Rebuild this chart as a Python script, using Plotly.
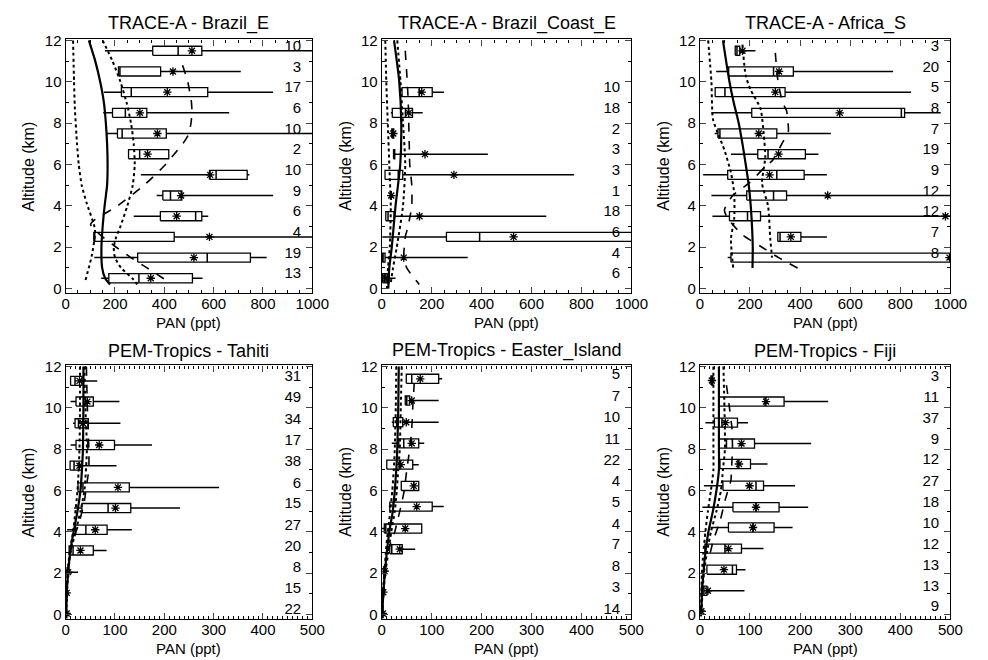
import plotly.graph_objects as go

W, H = 988, 660

# ---------------- DATA ----------------
TITLES = ["TRACE-A - Brazil_E", "TRACE-A - Brazil_Coast_E", "TRACE-A - Africa_S",
          "PEM-Tropics - Tahiti", "PEM-Tropics - Easter_Island", "PEM-Tropics - Fiji"]
X_MAX = [1000, 1000, 1000, 500, 500, 500]

# Panel 1: Brazil_E
BE_ALT = [11.5, 10.5, 9.5, 8.5, 7.5, 6.5, 5.5, 4.5, 3.5, 2.5, 1.5, 0.5]
BE_N = [10, 3, 17, 6, 10, 2, 10, 9, 6, 4, 19, 13]
BE_MIN = [159, 212, 155, 152, 167, 255, 305, 369, 276, 114, 116, 144]
BE_Q1 = [353, 214, 226, 190, 210, 255, 583, 394, 384, 114, 292, 175]
BE_MED = [456, 220, 266, 242, 229, 300, 610, 425, 527, 118, 574, 297]
BE_Q3 = [552, 385, 576, 329, 408, 418, 736, 471, 552, 440, 749, 514]
BE_MAX = [1100, 710, 841, 663, 1100, 418, 745, 841, 578, 1100, 815, 555]
BE_MEAN = [512, 435, 412, 301, 372, 332, 586, 468, 450, 583, 520, 345]
BE_SOLID_ALT = [12, 11, 10, 9, 8, 7, 6, 5, 4, 3, 2, 1, 0.5, 0.2]
BE_SOLID = [94, 120, 140, 155, 163, 168, 170, 168, 158, 150, 145, 148, 160, 180]
BE_DOT1_ALT = [12, 10, 8.8, 7, 6, 5, 4.1, 2.85, 1.6, 0.35]
BE_DOT1 = [30, 34, 37, 46, 53, 65, 86, 119, 106, 79]
BE_DOT2_ALT = [12, 11, 10, 9, 8, 7, 6, 5, 4, 3, 2.5, 2, 1.5, 1, 0.5, 0.2]
BE_DOT2 = [150, 190, 222, 247, 265, 276, 280, 272, 250, 222, 205, 195, 200, 225, 270, 290]
BE_DASH_ALT = [10.8, 10, 9, 8.5, 8, 7.5, 7, 6.5, 6, 5, 4, 3.3, 3.1, 2.5, 2, 1.5, 1, 0.5, 0.3]
BE_DASH = [474, 495, 510, 512, 508, 500, 475, 440, 405, 318, 210, 115, 101, 150, 205, 265, 330, 395, 420]

# Panel 2: Brazil_Coast_E
BC_ALT = [9.5, 8.5, 7.5, 6.5, 5.5, 4.5, 3.5, 2.5, 1.5, 0.5]
BC_N = [10, 18, 2, 3, 3, 1, 18, 6, 4, 6]
BC_MIN = [81, 36, 40, 47, 13, 38, 16, 2, 3, 3]
BC_Q1 = [81, 42, 40, 47, 13, 38, 16, 259, 3, 3]
BC_MED = [150, 95, 44, 50, 66, 38, 25, 392, 5, 10]
BC_Q3 = [202, 123, 48, 52, 84, 38, 49, 1200, 13, 29]
BC_MAX = [249, 164, 48, 425, 770, 38, 659, 1200, 344, 55]
BC_MEAN = [160, 108, 46, 173, 289, 38, 151, 528, 88, 16]
BC_SOLID_ALT = [12, 10, 8, 6, 4, 2, 1, 0]
BC_SOLID = [49, 70, 78, 74, 55, 40, 30, 26]
BC_DOT1_ALT = [12, 10, 8, 6, 4, 2, 1, 0]
BC_DOT1 = [14, 18, 24, 30, 36, 32, 25, 20]
BC_DOT2_ALT = [12, 10, 8, 6, 4, 2, 1, 0.2]
BC_DOT2 = [62, 75, 85, 94, 85, 60, 45, 35]
BC_DASH_ALT = [11.5, 10, 9, 8, 7, 6, 5, 4, 3, 2.5, 2, 1.5, 1, 0.5, 0.2]
BC_DASH = [94, 102, 106, 108, 110, 112, 120, 120, 105, 94, 90, 88, 100, 130, 150]

# Panel 3: Africa_S
AS_ALT = [11.5, 10.5, 9.5, 8.5, 7.5, 6.5, 5.5, 4.5, 3.5, 2.5, 1.5]
AS_N = [3, 20, 5, 8, 7, 19, 9, 12, 12, 7, 8]
AS_MIN = [141, 65, 61, 46, 59, 124, 13, 46, 50, 311, 111]
AS_Q1 = [141, 115, 61, 207, 72, 231, 111, 187, 118, 311, 124]
AS_MED = [148, 294, 100, 804, 80, 272, 307, 294, 190, 320, 1150]
AS_Q3 = [159, 373, 340, 817, 307, 421, 416, 346, 242, 403, 1200]
AS_MAX = [222, 771, 843, 961, 523, 473, 507, 1100, 1100, 507, 1200]
AS_MEAN = [170, 316, 301, 558, 235, 314, 278, 510, 980, 363, 996]
AS_SOLID_ALT = [12, 10, 9, 8, 7, 6, 5, 4, 3, 2, 1]
AS_SOLID = [92, 118, 135, 155, 170, 183, 195, 203, 208, 211, 210]
AS_DOT1_ALT = [12, 10, 8.2, 7.5, 6.7, 5.6, 4.6, 3.4, 2.4, 1.0]
AS_DOT1 = [33, 46, 52, 72, 98, 124, 137, 137, 124, 133]
AS_DOT2_ALT = [11.8, 10.3, 9.6, 8.7, 7.45, 6.35, 5.1, 4, 2.4, 1.5]
AS_DOT2 = [170, 183, 203, 242, 255, 261, 248, 272, 281, 288]
AS_DASH_ALT = [11.4, 10, 9, 8.6, 8, 7.6, 7, 6.7, 6.2, 5.9, 5.1, 4.5, 3.8, 3.4, 2.6, 2, 1.5, 0.9]
AS_DASH = [301, 312, 330, 346, 352, 353, 327, 314, 290, 261, 196, 131, 98, 111, 170, 248, 314, 405]

# Panel 4: Tahiti
TA_ALT = [11.3, 10.3, 9.25, 8.2, 7.2, 6.15, 5.15, 4.1, 3.1, 2.05, 1.05, 0.05]
TA_N = [31, 49, 34, 17, 38, 6, 15, 27, 20, 8, 15, 22]
TA_MIN = [10, 10, 15, 10, 9, 25, 17, 3, 7, 2, 1, 1]
TA_Q1 = [10, 21, 19, 21, 9, 25, 33, 20, 7, 3, 1, 1]
TA_MED = [19, 40, 26, 45, 17, 35, 86, 41, 15, 4, 2, 1.5]
TA_Q3 = [33, 56, 46, 99, 33, 129, 132, 84, 56, 6, 3, 2]
TA_MAX = [64, 109, 111, 175, 103, 311, 232, 134, 83, 25, 4, 3]
TA_MEAN = [28, 44, 35, 68, 28, 106, 101, 60, 30, 5, 2, 2]
TA_SOLID_ALT = [12, 10, 8, 7, 6, 5, 4, 3, 2, 1, 0]
TA_SOLID = [36, 36, 35, 33, 30, 24, 16, 9, 5, 2, 1]
TA_DOT1_ALT = [12, 10, 8, 6, 4, 3, 2, 1, 0]
TA_DOT1 = [29, 29, 28, 24, 15, 8, 4, 2, 1]
TA_DOT2_ALT = [12, 10, 8, 6, 5, 4, 3, 2, 0]
TA_DOT2 = [38, 40, 43, 38, 30, 20, 10, 5, 1]
TA_DASH_ALT = [12, 10, 8, 7, 6.5, 5.5, 4.5, 3.5, 2.5, 1, 0]
TA_DASH = [42, 44, 47, 47, 44, 38, 28, 14, 6, 2, 1]

# Panel 5: Easter_Island
EI_ALT = [11.4, 10.35, 9.3, 8.28, 7.25, 6.22, 5.22, 4.16, 3.16, 2.1, 1.08, 0.05]
EI_N = [5, 7, 10, 11, 22, 4, 5, 4, 7, 8, 3, 14]
EI_MIN = [49, 47, 20, 20, 10, 39, 14, 0, 16, 4, 2, 1]
EI_Q1 = [49, 47, 23, 34, 10, 39, 16, 5, 16, 4, 2, 1]
EI_MED = [60, 50, 30, 44, 36, 64, 23, 8, 20, 5, 3, 2]
EI_Q3 = [114, 56, 42, 74, 62, 74, 101, 80, 41, 8, 4, 2]
EI_MAX = [121, 114, 114, 85, 74, 74, 124, 80, 67, 12, 6, 3]
EI_MEAN = [77, 60, 49, 60, 38, 64, 70, 47, 36, 6, 3, 2]
EI_SOLID_ALT = [12, 10, 8, 7, 6, 5, 4, 3, 2, 1, 0]
EI_SOLID = [34, 33, 31, 29, 26, 22, 15, 10, 6, 3, 1]
EI_DOT1_ALT = [12, 10, 8, 7, 6, 5, 4, 3, 2, 1, 0]
EI_DOT1 = [29, 28, 26, 24, 21, 17, 12, 8, 5, 2, 1]
EI_DOT2_ALT = [12, 10, 8, 7, 6, 5, 4, 3, 2, 1, 0]
EI_DOT2 = [40, 38, 36, 33, 30, 26, 19, 13, 7, 3, 1]
EI_DASH_ALT = [11.2, 10, 9, 8, 7, 6, 5.3, 4.5, 4, 3.5, 3]
EI_DASH = [65, 62, 60, 56, 50, 45, 39, 31, 26, 18, 12]

# Panel 6: Fiji
FJ_ALT = [11.32, 10.3, 9.28, 8.27, 7.28, 6.23, 5.19, 4.21, 3.19, 2.17, 1.15, 0.16]
FJ_N = [3, 11, 37, 9, 12, 27, 18, 10, 12, 13, 13, 9]
FJ_MIN = [22, 38, 11, 38, 40, 8, 5, 21, 10, 14, 3, 1]
FJ_Q1 = [22, 38, 29, 38, 40, 46, 66, 57, 10, 14, 3, 1]
FJ_MED = [24, 130, 44, 53, 76, 112, 112, 106, 50, 65, 8, 2]
FJ_Q3 = [26, 168, 75, 109, 101, 127, 158, 148, 83, 73, 14, 3]
FJ_MAX = [26, 256, 96, 222, 135, 190, 216, 185, 127, 91, 89, 11]
FJ_MEAN = [24, 132, 51, 83, 78, 99, 112, 106, 57, 48, 16, 3]
FJ_SOLID_ALT = [12, 10, 8, 7, 6, 5, 4, 3, 2, 1, 0]
FJ_SOLID = [38, 38, 38, 38, 33, 26, 17, 11, 7, 4, 3]
FJ_DOT1_ALT = [12, 10, 8, 7, 6, 5, 4, 3, 2, 1, 0]
FJ_DOT1 = [27, 27, 27, 27, 22, 16, 11, 7, 4, 3, 2]
FJ_DOT2_ALT = [12, 10, 8, 7, 6, 5, 4, 3, 2, 1, 0]
FJ_DOT2 = [47, 49, 50, 46, 42, 33, 22, 14, 8, 5, 3]
FJ_DASH_ALT = [11.1, 10, 9, 8, 7, 6.5, 6, 5.5, 4.5, 3.6, 2.7]
FJ_DASH = [53, 59, 64, 65, 63, 62, 56, 50, 40, 27, 18]

PANELS = [
    (BE_ALT, BE_N, BE_MIN, BE_Q1, BE_MED, BE_Q3, BE_MAX, BE_MEAN,
     (BE_SOLID_ALT, BE_SOLID), (BE_DOT1_ALT, BE_DOT1), (BE_DOT2_ALT, BE_DOT2), (BE_DASH_ALT, BE_DASH)),
    (BC_ALT, BC_N, BC_MIN, BC_Q1, BC_MED, BC_Q3, BC_MAX, BC_MEAN,
     (BC_SOLID_ALT, BC_SOLID), (BC_DOT1_ALT, BC_DOT1), (BC_DOT2_ALT, BC_DOT2), (BC_DASH_ALT, BC_DASH)),
    (AS_ALT, AS_N, AS_MIN, AS_Q1, AS_MED, AS_Q3, AS_MAX, AS_MEAN,
     (AS_SOLID_ALT, AS_SOLID), (AS_DOT1_ALT, AS_DOT1), (AS_DOT2_ALT, AS_DOT2), (AS_DASH_ALT, AS_DASH)),
    (TA_ALT, TA_N, TA_MIN, TA_Q1, TA_MED, TA_Q3, TA_MAX, TA_MEAN,
     (TA_SOLID_ALT, TA_SOLID), (TA_DOT1_ALT, TA_DOT1), (TA_DOT2_ALT, TA_DOT2), (TA_DASH_ALT, TA_DASH)),
    (EI_ALT, EI_N, EI_MIN, EI_Q1, EI_MED, EI_Q3, EI_MAX, EI_MEAN,
     (EI_SOLID_ALT, EI_SOLID), (EI_DOT1_ALT, EI_DOT1), (EI_DOT2_ALT, EI_DOT2), (EI_DASH_ALT, EI_DASH)),
    (FJ_ALT, FJ_N, FJ_MIN, FJ_Q1, FJ_MED, FJ_Q3, FJ_MAX, FJ_MEAN,
     (FJ_SOLID_ALT, FJ_SOLID), (FJ_DOT1_ALT, FJ_DOT1), (FJ_DOT2_ALT, FJ_DOT2), (FJ_DASH_ALT, FJ_DASH)),
]

# ---------------- LAYOUT (pixel boxes) ----------------
COL_PX = [(63, 315), (386, 641), (711, 967)]
ROW_PX = [(32, 290), (364, 622)]
TITLE_PY = [16, 349]
XTITLE_PY = [320, 652]
FONT = "Liberation Sans, Arial, Helvetica, sans-serif"
HALF = 0.22  # half box height in km

fig = go.Figure()
layout = dict(width=W, height=H, margin=dict(l=0, r=0, t=0, b=0),
              paper_bgcolor="white", plot_bgcolor="white", showlegend=False,
              font=dict(family=FONT, color="black"))
annotations = []

for i, p in enumerate(PANELS):
    alt, n, vmin, q1, med, q3, vmax, mean, solid, dot1, dot2, dash = p
    r, c = divmod(i, 3)
    xs = "" if i == 0 else str(i + 1)
    xref, yref = "x" + xs, "y" + xs
    xmax = X_MAX[i]
    x0, x1 = COL_PX[c]
    y0, y1 = ROW_PX[r]
    dom_x = [x0 / W, x1 / W]
    dom_y = [1 - y1 / H, 1 - y0 / H]
    major = 200 if xmax == 1000 else 100
    minor = 50 if xmax == 1000 else 10
    layout["xaxis" + xs] = dict(
        domain=dom_x, anchor=yref, range=[0, xmax], dtick=major, tick0=0,
        ticks="inside", ticklen=6, tickwidth=1, showline=True, linecolor="black",
        linewidth=1.3, mirror="ticks", showgrid=False, zeroline=False,
        minor=dict(ticks="inside", ticklen=3, dtick=minor, tickcolor="black"),
        tickfont=dict(size=15, family=FONT, color="black"), ticklabelstandoff=-3)
    layout["yaxis" + xs] = dict(
        domain=dom_y, anchor=xref, range=[-0.2, 12.05], dtick=2, tick0=0,
        ticks="inside", ticklen=6, tickwidth=1, showline=True, linecolor="black",
        linewidth=1.3, mirror="ticks", showgrid=False, zeroline=False,
        minor=dict(ticks="inside", ticklen=3, dtick=1, tickcolor="black"),
        tickfont=dict(size=15, family=FONT, color="black"), ticklabelstandoff=0)

    # whiskers
    wx, wy = [], []
    for a, lo, b1, b3, hi in zip(alt, vmin, q1, q3, vmax):
        wx += [lo, b1, None, b3, hi, None]
        wy += [a, a, None, a, a, None]
    fig.add_trace(go.Scatter(x=wx, y=wy, mode="lines", xaxis=xref, yaxis=yref,
                             line=dict(color="black", width=1.5), hoverinfo="skip"))
    # boxes
    bx, by = [], []
    for a, b1, b3 in zip(alt, q1, q3):
        bx += [b1, b3, b3, b1, b1, None]
        by += [a - HALF, a - HALF, a + HALF, a + HALF, a - HALF, None]
    fig.add_trace(go.Scatter(x=bx, y=by, mode="lines", fill="toself", fillcolor="white",
                             xaxis=xref, yaxis=yref, line=dict(color="black", width=1.3),
                             hoverinfo="skip"))
    # medians
    mx, my = [], []
    for a, m in zip(alt, med):
        mx += [m, m, None]
        my += [a - HALF, a + HALF, None]
    fig.add_trace(go.Scatter(x=mx, y=my, mode="lines", xaxis=xref, yaxis=yref,
                             line=dict(color="black", width=1.5), hoverinfo="skip"))
    # model profiles
    for (pa, pv), style, wd in [(solid, "solid", 2.2), (dash, "dash", 1.6),
                                (dot1, "dot", 2.0), (dot2, "dot", 2.0)]:
        fig.add_trace(go.Scatter(x=pv, y=pa, mode="lines", xaxis=xref, yaxis=yref,
                                 line=dict(color="black", width=wd, dash=style,
                                           shape="spline", smoothing=0.6),
                                 hoverinfo="skip"))
    # means
    fig.add_trace(go.Scatter(x=mean, y=alt, mode="markers", xaxis=xref, yaxis=yref,
                             cliponaxis=True,
                             marker=dict(symbol="asterisk-open", size=7, color="black",
                                         line=dict(color="black", width=1.3)),
                             hoverinfo="skip"))
    # counts
    cx = [xmax * 0.955] * len(alt)
    cy = [a + 0.17 for a in alt]
    fig.add_trace(go.Scatter(x=cx, y=cy, mode="text", text=[str(v) for v in n],
                             textposition="middle left", xaxis=xref, yaxis=yref,
                             textfont=dict(size=15, family=FONT, color="black"),
                             hoverinfo="skip"))

    # title
    annotations.append(dict(text=TITLES[i], xref="paper", yref="paper",
                            x=(x0 + x1) / 2 / W, y=1 - TITLE_PY[r] / H, xanchor="center",
                            yanchor="middle", showarrow=False,
                            font=dict(size=18, family=FONT, color="black")))
    # x title
    annotations.append(dict(text="PAN (ppt)", xref="paper", yref="paper",
                            x=(x0 + x1) / 2 / W, y=1 - XTITLE_PY[r] / H, xanchor="center",
                            yanchor="middle", showarrow=False,
                            font=dict(size=15, family=FONT, color="black")))
    # y title
    annotations.append(dict(text="Altitude (km)", xref="paper", yref="paper",
                            x=(x0 - 38) / W, y=1 - (y0 + y1) / 2 / H, xanchor="center",
                            yanchor="middle", showarrow=False, textangle=-90,
                            font=dict(size=16, family=FONT, color="black")))

layout["annotations"] = annotations
fig.update_layout(**layout)
fig.write_html("out.html")
